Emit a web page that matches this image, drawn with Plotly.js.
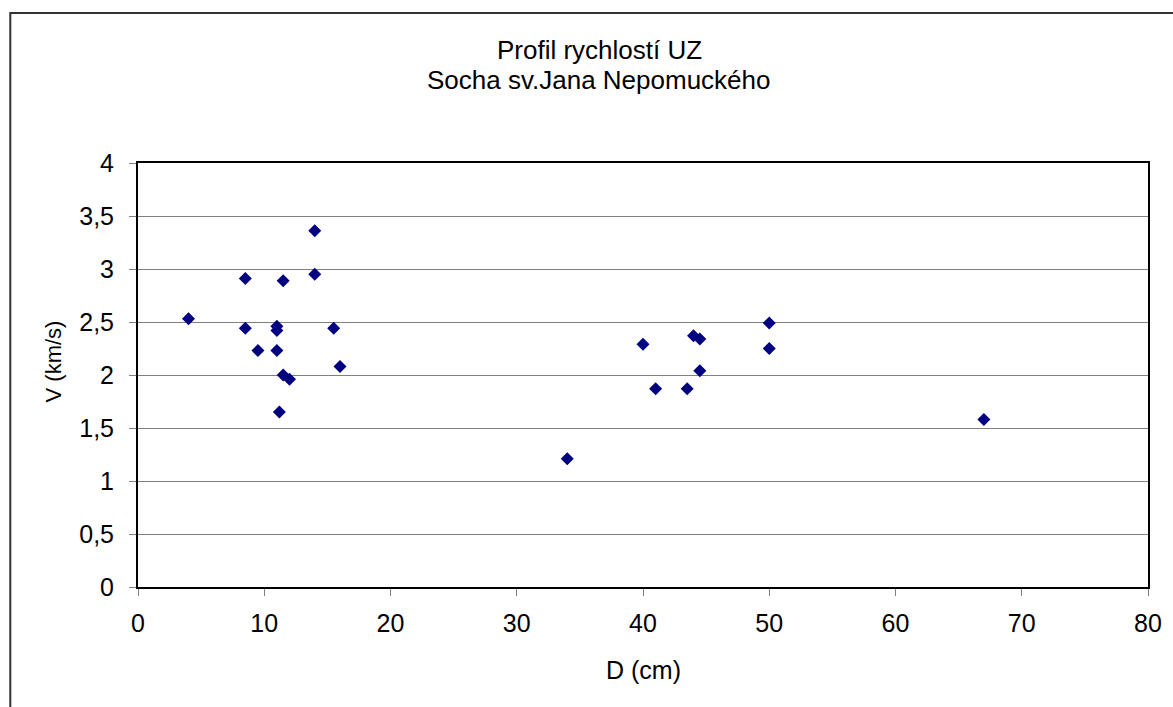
<!DOCTYPE html>
<html>
<head>
<meta charset="utf-8">
<script src="https://cdn.plot.ly/plotly-3.0.1.min.js"></script>
<style>html,body{margin:0;padding:0;background:#fff;}#chart{width:1173px;height:707px;}</style>
</head>
<body>
<div id="chart"></div>
<script>
const titleLines = ["Profil rychlostí UZ", "Socha sv.Jana Nepomuckého"];
const xLabel = "D (cm)";
const yLabel = "V (km/s)";
const depthCm = [14, 8.5, 11.5, 14, 4, 8.5, 11, 11, 15.5, 9.5, 11, 16, 11.5, 12, 11.2,
                 50, 44, 44.5, 40, 50, 44.5, 41, 43.5, 34, 67];
const velocity = [3.36, 2.91, 2.89, 2.95, 2.53, 2.44, 2.46, 2.42, 2.44, 2.23, 2.23, 2.08, 2.0, 1.96, 1.65,
                  2.49, 2.37, 2.34, 2.29, 2.25, 2.04, 1.87, 1.87, 1.21, 1.58];

const font = "Liberation Sans, Arial, sans-serif";
const trace = {
  type: "scatter", mode: "markers", x: depthCm, y: velocity,
  marker: {symbol: "diamond", size: 10, color: "#000080", line: {width: 0}},
  showlegend: false, hoverinfo: "x+y"
};
const L = 137.7, R = 1147.7, T = 163, B = 586.7, W = 1173, H = 707;
const pw = R - L, ph = B - T;
const px = v => (v - L) / pw, py = v => (B - v) / ph;
const txt = (s, size) => ({family: font, size: size, color: "#000"});
const layout = {
  width: W, height: H,
  margin: {l: L, r: W - R, t: T, b: H - B, pad: 0},
  paper_bgcolor: "#fff", plot_bgcolor: "#fff",
  font: txt(null, 25),
  separators: ",.",
  xaxis: {
    range: [0, 80], dtick: 10, tick0: 0, showgrid: false, zeroline: false,
    showline: true, linecolor: "#000", linewidth: 2, mirror: true,
    ticks: "outside", ticklen: 7, tickcolor: "#808080", tickwidth: 1,
    ticklabelstandoff: 6,
    tickfont: txt(null, 25),
    automargin: false, fixedrange: true
  },
  yaxis: {
    range: [0, 4], dtick: 0.5, tick0: 0, showgrid: true, gridcolor: "#808080", gridwidth: 1,
    zeroline: false, showline: true, linecolor: "#000", linewidth: 2, mirror: true,
    ticks: "outside", ticklen: 7, tickcolor: "#808080", tickwidth: 1,
    ticklabelstandoff: 10,
    tickfont: txt(null, 25),
    automargin: false, fixedrange: true
  },
  annotations: [
    {text: titleLines[0], xref: "paper", yref: "paper", x: px(599), y: py(50), xanchor: "center", yanchor: "middle", showarrow: false, font: txt(null, 26)},
    {text: titleLines[1], xref: "paper", yref: "paper", x: px(599), y: py(80), xanchor: "center", yanchor: "middle", showarrow: false, font: txt(null, 26)},
    {text: xLabel, xref: "paper", yref: "paper", x: 0.5, y: py(670), xanchor: "center", yanchor: "middle", showarrow: false, font: txt(null, 25)},
    {text: yLabel, xref: "paper", yref: "paper", x: px(53), y: py(361), xanchor: "center", yanchor: "middle", showarrow: false, textangle: -90, font: txt(null, 22)}
  ],
  shapes: [
    {type: "rect", xref: "paper", yref: "paper", x0: px(10), x1: px(1190), y0: py(13), y1: py(730), line: {color: "#333", width: 2}, layer: "below"}
  ]
};
Plotly.newPlot("chart", [trace], layout, {staticPlot: true, displayModeBar: false});
</script>
</body>
</html>
